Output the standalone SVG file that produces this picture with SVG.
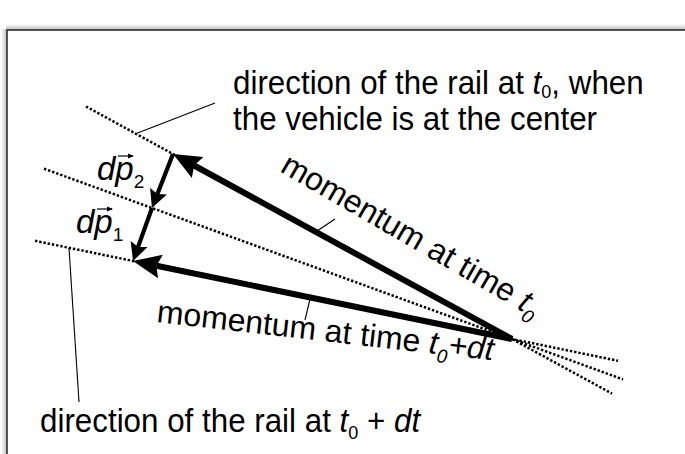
<svg xmlns="http://www.w3.org/2000/svg" width="685" height="454" viewBox="0 0 685 454">
<style>
.t{font-family:"Liberation Sans",Arial,Helvetica,sans-serif;font-size:33px;fill:#000}
.r{font-size:32px}
.i{font-style:italic}
.s{font-size:19px}
.dot{fill:none;stroke:#000;stroke-width:2.5;stroke-dasharray:2.4 1.9}
.thin{fill:none;stroke:#000;stroke-width:1.1}
.big{fill:none;stroke:#000;stroke-width:6;marker-end:url(#headL)}
.small{fill:none;stroke:#000;stroke-width:4.2;marker-end:url(#headS)}
</style>
<defs>
<linearGradient id="gl" x1="0" y1="0" x2="1" y2="0"><stop offset="0" stop-color="#fff"/><stop offset="1" stop-color="#bbb"/></linearGradient>
<linearGradient id="gt" x1="0" y1="0" x2="0" y2="1"><stop offset="0" stop-color="#fff"/><stop offset="1" stop-color="#bbb"/></linearGradient>
<marker id="headL" markerUnits="userSpaceOnUse" markerWidth="32" markerHeight="28" viewBox="0 -14 32 28" refX="4" refY="0" orient="auto"><path d="M0,-12 L28,0 L0,12 L4,0 z" fill="#000"/></marker>
<marker id="headS" markerUnits="userSpaceOnUse" markerWidth="22" markerHeight="20" viewBox="0 -10 22 20" refX="3" refY="0" orient="auto"><path d="M0,-9 L18,0 L0,9 L3,0 z" fill="#000"/></marker>
<marker id="headT" markerUnits="userSpaceOnUse" markerWidth="8" markerHeight="6" viewBox="0 -3 8 6" refX="5" refY="0" orient="auto"><path d="M0,-2.5 L6,0 L0,2.5 z" fill="#000"/></marker>
</defs>
<rect x="0" y="0" width="685" height="454" fill="#fff"/>
<g id="frame">
<rect x="1" y="29" width="6" height="425" fill="url(#gl)"/>
<rect x="6" y="24" width="679" height="6" fill="url(#gt)"/>
<path d="M7,454 V30 H685" fill="none" stroke="#222" stroke-width="1.5"/>
</g>
<g id="rails">
<line class="dot" x1="86" y1="106.5" x2="612" y2="393.6"/>
<line class="dot" x1="44" y1="168.7" x2="623" y2="379.4"/>
<line class="dot" x1="35" y1="240.8" x2="618" y2="360.8"/>
</g>
<g id="connectors">
<line class="big" x1="512" y1="339" x2="194.1" y2="165.5"/>
<line class="big" x1="512" y1="339" x2="156.5" y2="265.8"/>
<line class="small" x1="173" y1="154" x2="157.4" y2="194.0"/>
<line class="small" x1="152" y1="208" x2="138.1" y2="246.9"/>
<line class="thin" x1="135" y1="134" x2="215" y2="103"/>
<line class="thin" x1="69" y1="248" x2="79" y2="402"/>
<line class="thin" x1="317" y1="231" x2="335" y2="219"/>
<line class="thin" x1="310" y1="299" x2="305" y2="320"/>
</g>
<g id="label-rail-t0" transform="translate(233 0) scale(0.95 1)">
<text class="t" x="0" y="94">direction of the rail at <tspan class="i">t</tspan><tspan class="s" dy="4">0</tspan><tspan dy="-4">, when</tspan></text>
<text class="t" x="0" y="130">the vehicle is at the center</text>
</g>
<g id="label-rail-t0dt" transform="translate(40 0) scale(0.95 1)">
<text class="t" x="0" y="432">direction of the rail at <tspan class="i">t</tspan><tspan class="s" dy="7">0</tspan><tspan dy="-7"> + </tspan><tspan class="i">dt</tspan></text>
</g>
<g id="label-dp2">
<text class="t i" x="97" y="180">dp<tspan class="s" font-style="normal" dy="8">2</tspan></text>
<line x1="118" y1="156" x2="133" y2="156" stroke="#000" stroke-width="1.2" marker-end="url(#headT)"/>
</g>
<g id="label-dp1">
<text class="t i" x="76" y="233">dp<tspan class="s" font-style="normal" dy="8">1</tspan></text>
<line x1="97" y1="209" x2="112" y2="209" stroke="#000" stroke-width="1.2" marker-end="url(#headT)"/>
</g>
<g id="label-momentum-t0">
<text class="t r" x="279" y="171" transform="rotate(30 279 171)">momentum at time <tspan class="i">t</tspan><tspan class="s i" dy="8">0</tspan></text>
</g>
<g id="label-momentum-t0dt">
<text class="t r" x="156" y="322" transform="rotate(6.5 156 322)">momentum at time <tspan class="i">t</tspan><tspan class="s i" dy="8">0</tspan><tspan class="i" dy="-8">+dt</tspan></text>
</g>
</svg>
